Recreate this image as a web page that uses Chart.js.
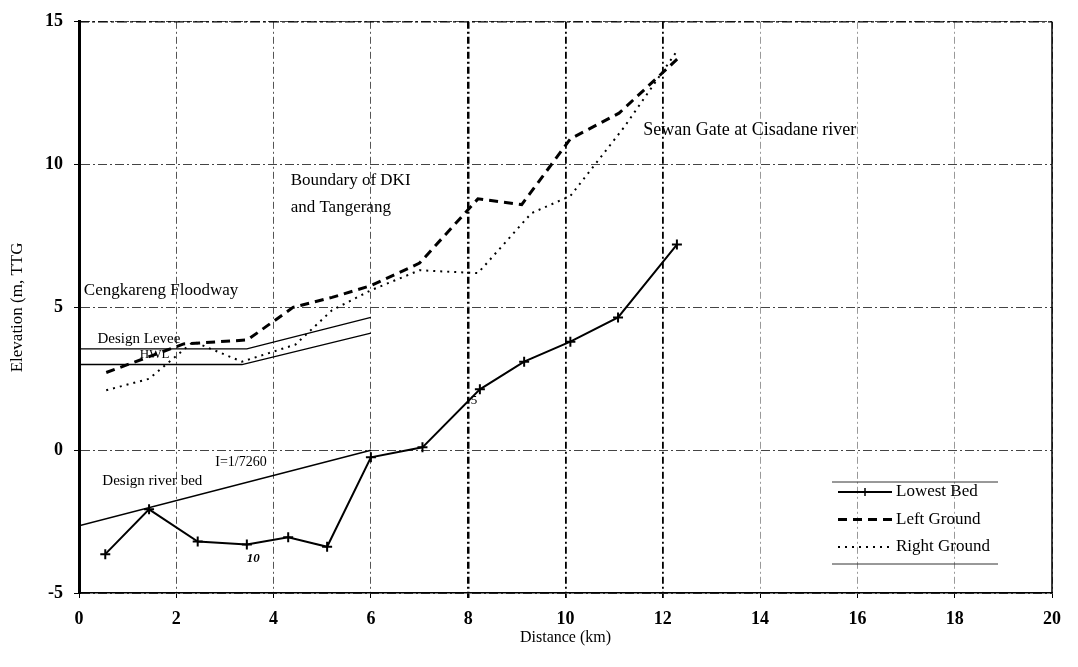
<!DOCTYPE html>
<html>
<head>
<meta charset="utf-8">
<script src="https://cdn.jsdelivr.net/npm/chart.js@4.4.1/dist/chart.umd.min.js"></script>
<style>
  html, body { margin: 0; padding: 0; background: #fff; }
</style>
</head>
<body>
<canvas id="chart" width="1078" height="667"></canvas>
<script>
// distance (km) / elevation (m, TTG)
const lowestBedKm = [0.54, 1.44, 2.44, 3.45, 4.3, 5.1, 6.0, 7.06, 8.24, 9.15, 10.1, 11.08, 12.29];
const lowestBedElev = [-3.64, -2.07, -3.2, -3.3, -3.05, -3.38, -0.25, 0.1, 2.13, 3.1, 3.8, 4.65, 7.2];

const leftGroundKm = [0.56, 2.15, 3.46, 4.4, 5.2, 6.0, 7.0, 8.2, 9.1, 10.1, 11.1, 12.3];
const leftGroundElev = [2.72, 3.72, 3.86, 5.0, 5.35, 5.76, 6.55, 8.8, 8.6, 10.9, 11.8, 13.7];

const rightGroundKm = [0.56, 1.44, 2.35, 3.35, 4.45, 5.2, 6.0, 7.0, 8.2, 9.3, 10.1, 11.2, 12.3];
const rightGroundElev = [2.1, 2.5, 3.8, 3.1, 3.7, 4.9, 5.6, 6.3, 6.2, 8.3, 8.9, 11.3, 14.0];

const designLeveeKm = [0, 3.45, 6.0];
const designLeveeElev = [3.55, 3.55, 4.65];

const hwlKm = [0, 3.35, 6.0];
const hwlElev = [3.0, 3.0, 4.1];

const riverBedKm = [0, 6.0];
const riverBedElev = [-2.65, 0.0];

const xTicks = [0, 2, 4, 6, 8, 10, 12, 14, 16, 18, 20];
const yTicks = [-5, 0, 5, 10, 15];

const serif = "'Liberation Serif', 'DejaVu Serif', serif";

const toPoints = (xs, ys) => xs.map((x, i) => ({ x, y: ys[i] }));

// text written on the drawing, placed in km / m
const notes = [
  { text: 'Cengkareng Floodway', km: 0.1, elev: 5.6, size: 17 },
  { text: 'Design Levee', km: 0.38, elev: 3.9, size: 15 },
  { text: 'HWL', km: 1.25, elev: 3.35, size: 13 },
  { text: 'Design river bed', km: 0.48, elev: -1.08, size: 15 },
  { text: 'I=1/7260', km: 2.8, elev: -0.42, size: 14 },
  { text: '10', km: 3.45, elev: -3.8, size: 13, italic: true },
  { text: '5', km: 8.05, elev: 1.75, size: 13 },
  { text: 'Boundary of DKI', km: 4.35, elev: 9.44, size: 17 },
  { text: 'and Tangerang', km: 4.35, elev: 8.5, size: 17 },
  { text: 'Sewan Gate at Cisadane river', km: 11.6, elev: 11.2, size: 18 },
];

const profilePlugin = {
  id: 'profile',
  afterDatasetsDraw(chart) {
    const { ctx, chartArea: area, scales } = chart;
    const sx = scales.x, sy = scales.y;

    ctx.save();
    // right and top frame
    ctx.strokeStyle = '#000';
    ctx.lineWidth = 1.5;
    ctx.beginPath();
    ctx.moveTo(area.right, area.top);
    ctx.lineTo(area.right, area.bottom);
    ctx.stroke();
    ctx.lineWidth = 1.2;
    ctx.setLineDash([10, 3, 3, 3]);
    ctx.beginPath();
    ctx.moveTo(area.left, area.top);
    ctx.lineTo(area.right, area.top);
    ctx.stroke();
    ctx.setLineDash([]);

    // annotations
    ctx.fillStyle = '#000';
    ctx.textBaseline = 'middle';
    ctx.textAlign = 'left';
    notes.forEach(n => {
      ctx.font = (n.italic ? 'italic bold ' : '') + n.size + 'px ' + serif;
      ctx.fillText(n.text, sx.getPixelForValue(n.km), sy.getPixelForValue(n.elev));
    });

    // legend box
    const lx = area.right - 220, lw = 166;
    const top = area.bottom - 111, bottom = area.bottom - 29;
    ctx.strokeStyle = '#333';
    ctx.lineWidth = 1;
    ctx.beginPath();
    ctx.moveTo(lx, top); ctx.lineTo(lx + lw, top);
    ctx.moveTo(lx, bottom); ctx.lineTo(lx + lw, bottom);
    ctx.stroke();

    const items = chart.data.datasets.filter(d => d.inLegend);
    items.forEach((ds, i) => {
      const y = top + 10 + i * 27.5;
      const x1 = lx + 6, x2 = lx + 60;
      ctx.strokeStyle = ds.borderColor;
      ctx.lineWidth = ds.borderWidth;
      ctx.setLineDash(ds.borderDash || []);
      ctx.beginPath();
      ctx.moveTo(x1, y); ctx.lineTo(x2, y);
      ctx.stroke();
      ctx.setLineDash([]);
      if (ds.pointStyle === 'cross') {
        const cx = (x1 + x2) / 2;
        ctx.lineWidth = 1.5;
        ctx.beginPath();
        ctx.moveTo(cx - 4, y); ctx.lineTo(cx + 4, y);
        ctx.moveTo(cx, y - 4); ctx.lineTo(cx, y + 4);
        ctx.stroke();
      }
      ctx.font = '17px ' + serif;
      ctx.fillStyle = '#000';
      ctx.fillText(ds.label, x2 + 4, y);
    });
    ctx.restore();
  },
};

const strongGrid = [8, 10, 12];
const faintGrid = [14, 16, 18];

new Chart(document.getElementById('chart'), {
  type: 'line',
  data: {
    datasets: [
      {
        label: 'Lowest Bed',
        data: toPoints(lowestBedKm, lowestBedElev),
        borderColor: '#000',
        borderWidth: 2,
        pointStyle: 'cross',
        pointRadius: 5,
        pointBorderWidth: 2,
        pointBorderColor: '#000',
        inLegend: true,
      },
      {
        label: 'Left Ground',
        data: toPoints(leftGroundKm, leftGroundElev),
        borderColor: '#000',
        borderWidth: 3,
        borderDash: [9, 6],
        pointRadius: 0,
        inLegend: true,
      },
      {
        label: 'Right Ground',
        data: toPoints(rightGroundKm, rightGroundElev),
        borderColor: '#000',
        borderWidth: 2,
        borderDash: [2, 5],
        pointRadius: 0,
        inLegend: true,
      },
      {
        label: 'Design Levee',
        data: toPoints(designLeveeKm, designLeveeElev),
        borderColor: '#000',
        borderWidth: 1.3,
        pointRadius: 0,
      },
      {
        label: 'HWL',
        data: toPoints(hwlKm, hwlElev),
        borderColor: '#000',
        borderWidth: 1.3,
        pointRadius: 0,
      },
      {
        label: 'Design river bed',
        data: toPoints(riverBedKm, riverBedElev),
        borderColor: '#000',
        borderWidth: 1.5,
        pointRadius: 0,
      },
    ],
  },
  options: {
    responsive: false,
    animation: false,
    layout: { padding: { top: 20, right: 26, left: 0, bottom: 0 } },
    plugins: {
      legend: { display: false },
      tooltip: { enabled: false },
    },
    scales: {
      x: {
        type: 'linear',
        min: 0,
        max: 20,
        afterFit: scale => { scale.height = 74; },
        afterBuildTicks: scale => { scale.ticks = xTicks.map(value => ({ value })); },
        ticks: {
          color: '#000',
          padding: 11,
          maxRotation: 0,
          font: { family: serif, size: 18, weight: 'bold' },
        },
        grid: {
          color: ctx => {
            const v = ctx.tick && ctx.tick.value;
            if (strongGrid.includes(v)) return '#000';
            if (faintGrid.includes(v)) return '#999';
            return '#555';
          },
          lineWidth: ctx => {
            const v = ctx.tick && ctx.tick.value;
            if (v === 8) return 2.5;
            if (strongGrid.includes(v)) return 1.8;
            return 1;
          },
          tickColor: '#000',
          tickLength: 5,
        },
        border: { color: '#000', width: 1.5, dash: [7, 3, 2, 3] },
        title: {
          display: true,
          text: 'Distance (km)',
          color: '#000',
          font: { family: serif, size: 16 },
          padding: { top: 4, bottom: 20 },
        },
      },
      y: {
        type: 'linear',
        min: -5,
        max: 15,
        afterFit: scale => { scale.width = 79; },
        afterBuildTicks: scale => { scale.ticks = yTicks.map(value => ({ value })); },
        ticks: {
          color: '#000',
          padding: 11,
          font: { family: serif, size: 18, weight: 'bold' },
        },
        grid: {
          color: '#444',
          lineWidth: 1,
          tickColor: '#000',
          tickLength: 5,
        },
        border: { color: '#000', width: 3, dash: [9, 3, 2, 3] },
        title: {
          display: true,
          text: 'Elevation (m, TTG',
          color: '#000',
          font: { family: serif, size: 17 },
          padding: { top: 7, bottom: 4 },
        },
      },
    },
  },
  plugins: [profilePlugin],
});
</script>
</body>
</html>
